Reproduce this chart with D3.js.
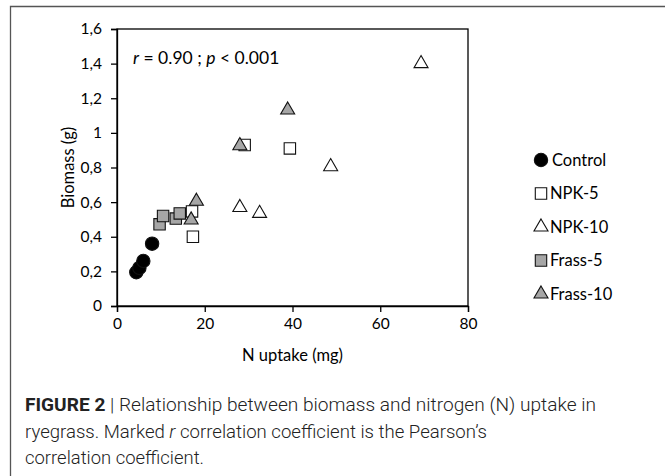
<!DOCTYPE html>
<html><head><meta charset="utf-8">
<script src="https://cdn.jsdelivr.net/npm/d3@7"></script>
<style>
html,body{margin:0;padding:0;background:#fff;}
svg{display:block;}
</style></head>
<body>
<svg id="chart" width="665" height="476"></svg>
<script>
// ---- data ----
const categories = ["Control", "NPK-5", "NPK-10", "Frass-5", "Frass-10"];
const controlX = [4.4, 5.1, 6.0, 8.0];
const controlY = [0.195, 0.22, 0.26, 0.36];
const npk5X = [17.1, 17.3, 29.1, 39.4];
const npk5Y = [0.546, 0.40, 0.93, 0.91];
const npk10X = [28.0, 32.5, 48.7, 69.3];
const npk10Y = [0.569, 0.535, 0.805, 1.40];
const frass5X = [9.7, 10.5, 13.4, 14.3];
const frass5Y = [0.472, 0.52, 0.505, 0.535];
const frass10X = [18.1, 16.9, 28.0, 38.9];
const frass10Y = [0.605, 0.497, 0.926, 1.132];
const xTicks = [0, 20, 40, 60, 80];
const yTicks = [0, 0.2, 0.4, 0.6, 0.8, 1, 1.2, 1.4, 1.6];
const yTickLabels = ["0", "0,2", "0,4", "0,6", "0,8", "1", "1,2", "1,4", "1,6"];
const xTitle = "N uptake (mg)";
const yTitle = "Biomass (g)";

const seriesX = [controlX, npk5X, npk10X, frass5X, frass10X];
const seriesY = [controlY, npk5Y, npk10Y, frass5Y, frass10Y];
const seriesShape = [d3.symbolCircle, d3.symbolSquare, d3.symbolTriangle, d3.symbolSquare, d3.symbolTriangle];
const seriesFill = ["#000000", "#ffffff", "#ffffff", "#a6a6a6", "#a6a6a6"];
const seriesSize = [140, 130, 85, 130, 85];

const svg = d3.select("#chart");
const font = "Lato, 'Liberation Sans', sans-serif";
const fs = 16.5;

// outer figure frame
svg.append("path").attr("d", "M10.5,476 V6.5 H665")
  .attr("fill", "none").attr("stroke", "#555").attr("stroke-width", 1.3);

const x = d3.scaleLinear().domain([0, 80]).range([117, 468]);
const y = d3.scaleLinear().domain([0, 1.6]).range([306, 29]);

// plot area frame
svg.append("rect")
  .attr("x", x(0)).attr("y", y(1.6))
  .attr("width", x(80) - x(0)).attr("height", y(0) - y(1.6))
  .attr("fill", "none").attr("stroke", "#000").attr("stroke-width", 1.3);

const xAxis = svg.append("g").attr("transform", `translate(0,${y(0)})`)
  .call(d3.axisBottom(x).tickValues(xTicks).tickSize(6).tickPadding(6).tickFormat(d3.format("d")));
const yAxis = svg.append("g").attr("transform", `translate(${x(0)},0)`)
  .call(d3.axisLeft(y).tickValues(yTicks).tickSize(6).tickPadding(9)
    .tickFormat((d, i) => yTickLabels[i]));
[xAxis, yAxis].forEach(g => {
  g.selectAll("path.domain").attr("stroke", "#000").attr("stroke-width", 1.3);
  g.selectAll(".tick line").attr("stroke", "#000").attr("stroke-width", 1.3);
  g.selectAll("text").attr("font-family", font).attr("font-size", 15.5).attr("fill", "#000");
});

// axis titles
svg.append("text").attr("x", (x(0) + x(80)) / 2).attr("y", 361)
  .attr("text-anchor", "middle").attr("font-family", font).attr("font-size", fs)
  .text(xTitle);
svg.append("text").attr("transform", `translate(74,${(y(0) + y(1.6)) / 2}) rotate(-90)`)
  .attr("text-anchor", "middle").attr("font-family", font).attr("font-size", fs)
  .text(yTitle);

// annotation
const ann = svg.append("text").attr("x", 133).attr("y", 64)
  .attr("font-family", font).attr("font-size", 17.5);
ann.append("tspan").attr("font-style", "italic").text("r");
ann.append("tspan").text(" = 0.90 ; ");
ann.append("tspan").attr("font-style", "italic").text("p");
ann.append("tspan").text(" < 0.001");

// points
categories.forEach((c, i) => {
  const pts = seriesX[i].map((v, j) => [v, seriesY[i][j]]);
  svg.append("g").selectAll("path").data(pts).join("path")
    .attr("transform", d => `translate(${x(d[0])},${y(d[1])})`)
    .attr("d", d3.symbol().type(seriesShape[i]).size(seriesSize[i]))
    .attr("fill", seriesFill[i])
    .attr("stroke", "#111").attr("stroke-width", 1.1);
});

// legend
const leg = svg.append("g");
categories.forEach((c, i) => {
  const ly = 160 + i * 33.5;
  leg.append("path").attr("transform", `translate(541,${ly})`)
    .attr("d", d3.symbol().type(seriesShape[i]).size(seriesSize[i]))
    .attr("fill", seriesFill[i]).attr("stroke", "#111").attr("stroke-width", 1.1);
  leg.append("text").attr("x", i === 0 ? 552 : 550).attr("y", ly).attr("dy", "0.35em")
    .attr("font-family", font).attr("font-size", fs).text(c);
});

// caption
const capFont = "Roboto, 'Liberation Sans', sans-serif";
const cap = svg.append("g").attr("font-family", capFont).attr("font-size", 17.5)
  .attr("font-weight", 300).attr("fill", "#222");
const l1 = cap.append("text").attr("x", 25).attr("y", 411);
l1.append("tspan").attr("font-weight", 700).text("FIGURE 2");
l1.append("tspan").text(" | Relationship between biomass and nitrogen (N) uptake in");
const l2 = cap.append("text").attr("x", 25).attr("y", 438);
l2.append("tspan").text("ryegrass. Marked ");
l2.append("tspan").attr("font-style", "italic").text("r");
l2.append("tspan").text(" correlation coefficient is the Pearson\u2019s");
const l3 = cap.append("text").attr("x", 25).attr("y", 464).text("correlation coefficient.");
[[l1, 571], [l2, 462], [l3, 179]].forEach(([t, w]) => {
  t.attr("textLength", w).attr("lengthAdjust", "spacingAndGlyphs");
});
</script>
</body></html>
